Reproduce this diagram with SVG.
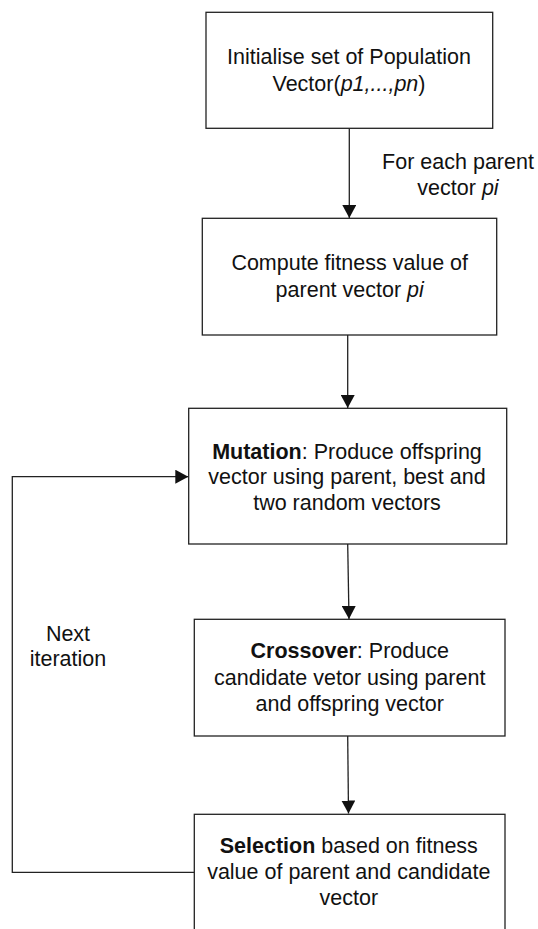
<svg xmlns="http://www.w3.org/2000/svg" width="538" height="929" viewBox="0 0 538 929">
  <style>
    .box { fill: #ffffff; stroke: #222222; stroke-width: 1.3; }
    .edge { fill: none; stroke: #222222; stroke-width: 1.3; }
    text { font-family: "Liberation Sans", Arial, sans-serif; font-size: 21.5px; fill: #111111; text-anchor: middle; }
    .b { font-weight: bold; }
    .i { font-style: italic; }
  </style>
  <defs>
    <marker id="arrow" markerUnits="userSpaceOnUse" markerWidth="14" markerHeight="14" refX="13" refY="7" orient="auto">
      <path d="M0,0 L13,7 L0,14 z" fill="#111111"/>
    </marker>
  </defs>
  <rect width="538" height="929" fill="#ffffff"/>

  <g id="connectors">
    <line class="edge" x1="349.3" y1="128.3" x2="349.3" y2="218" marker-end="url(#arrow)"/>
    <line class="edge" x1="347.7" y1="335" x2="347.7" y2="408" marker-end="url(#arrow)"/>
    <line class="edge" x1="347.7" y1="544" x2="349" y2="619" marker-end="url(#arrow)"/>
    <line class="edge" x1="347.7" y1="736" x2="348.5" y2="813.5" marker-end="url(#arrow)"/>
    <polyline class="edge" points="194.3,872.3 12.3,872.3 12.3,476.7 188.3,476.7" marker-end="url(#arrow)"/>
    <text x="458" y="169.3">For each parent</text>
    <text x="458" y="195">vector <tspan class="i">pi</tspan></text>
    <text x="68" y="640.7">Next</text>
    <text x="68" y="666">iteration</text>
  </g>

  <g id="init">
    <rect class="box" x="206" y="12.3" width="286.7" height="116"/>
    <text x="349" y="64">Initialise set of Population</text>
    <text x="349" y="90.5">Vector(<tspan class="i">p1,...,pn</tspan>)</text>
  </g>

  <g id="fitness">
    <rect class="box" x="202.3" y="218.3" width="294.4" height="116.7"/>
    <text x="349.7" y="270">Compute fitness value of</text>
    <text x="349.7" y="296.5">parent vector <tspan class="i">pi</tspan></text>
  </g>

  <g id="mutation">
    <rect class="box" x="188.7" y="408.3" width="318" height="135.7"/>
    <text x="347" y="458.5"><tspan class="b">Mutation</tspan>: Produce offspring</text>
    <text x="347" y="484">vector using parent, best and</text>
    <text x="347" y="509.5">two random vectors</text>
  </g>

  <g id="crossover">
    <rect class="box" x="194.3" y="619.3" width="310.7" height="116.7"/>
    <text x="349.7" y="658.3"><tspan class="b">Crossover</tspan>: Produce</text>
    <text x="349.7" y="684.5">candidate vetor using parent</text>
    <text x="349.7" y="710.7">and offspring vector</text>
  </g>

  <g id="selection">
    <rect class="box" x="194.3" y="814.3" width="310.7" height="130"/>
    <text x="348.8" y="852.7"><tspan class="b">Selection</tspan> based on fitness</text>
    <text x="348.8" y="878.5">value of parent and candidate</text>
    <text x="348.8" y="905">vector</text>
  </g>
</svg>
